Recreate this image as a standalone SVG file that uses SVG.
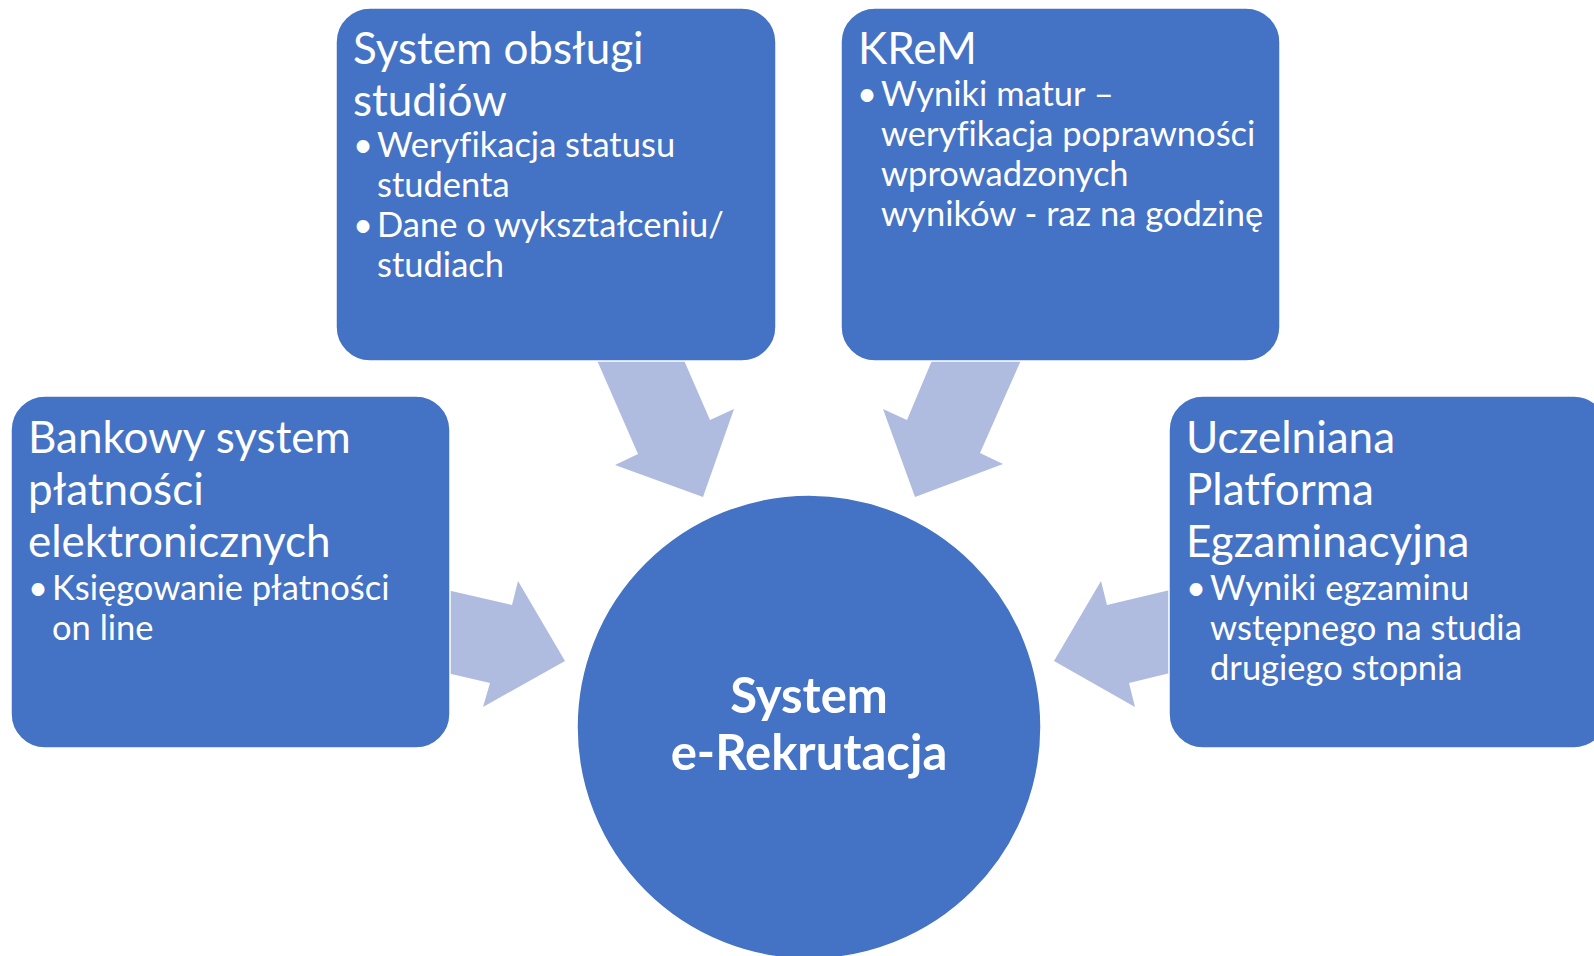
<svg xmlns="http://www.w3.org/2000/svg" width="1594" height="956" viewBox="0 0 1594 956">
<style>
.box{fill:#4472C4;stroke:#ffffff;stroke-width:1.5}
.arrow{fill:#B0BCDF}
.t{font-family:Lato,"Open Sans","Liberation Sans",sans-serif;fill:#ffffff;font-variant-ligatures:none}
.title{font-size:44px}
.item{font-size:34.5px}
.center{font-size:49px;font-weight:bold}
</style>
<rect width="1594" height="956" fill="#ffffff"/>
<g id="connectors">
<polygon class="arrow" points="596,358 683,358 710,420 734,409 703,497 615,465 638,454"/>
<polygon class="arrow" points="933,358 1022,358 980,453 1003,464 915,497 883,409 907,420"/>
<polygon class="arrow" points="447,590 512,605 518,581 565,661 483,707 490,683 447,673"/>
<polygon class="arrow" points="1170,590 1107,605 1101,581 1054,661 1135,707 1129,683 1170,673"/>
</g>
<g id="node-sos">
<rect class="box" x="336" y="8" width="440" height="353" rx="34"/>
<text class="t title" x="353" y="64">System obsługi</text>
<text class="t title" x="353" y="116">studiów</text>
<text class="t item" x="353" y="157">•</text>
<text class="t item" x="377" y="157">Weryfikacja statusu</text>
<text class="t item" x="377" y="197">studenta</text>
<text class="t item" x="353" y="237">•</text>
<text class="t item" x="377" y="237">Dane o wykształceniu/</text>
<text class="t item" x="377" y="277">studiach</text>
</g>
<g id="node-krem">
<rect class="box" x="841" y="8" width="439" height="353" rx="34"/>
<text class="t title" x="858" y="64">KReM</text>
<text class="t item" x="857" y="106">•</text>
<text class="t item" x="881" y="106">Wyniki matur –</text>
<text class="t item" x="881" y="146">weryfikacja poprawności</text>
<text class="t item" x="881" y="186">wprowadzonych</text>
<text class="t item" x="881" y="226">wyników - raz na godzinę</text>
</g>
<g id="node-bank">
<rect class="box" x="11" y="396" width="439" height="352" rx="34"/>
<text class="t title" x="28" y="453">Bankowy system</text>
<text class="t title" x="28" y="505">płatności</text>
<text class="t title" x="28" y="557">elektronicznych</text>
<text class="t item" x="28" y="600">•</text>
<text class="t item" x="52" y="600">Księgowanie płatności</text>
<text class="t item" x="52" y="640">on line</text>
</g>
<g id="node-upe">
<rect class="box" x="1169" y="396" width="439" height="352" rx="34"/>
<text class="t title" x="1186" y="453">Uczelniana</text>
<text class="t title" x="1186" y="505">Platforma</text>
<text class="t title" x="1186" y="557">Egzaminacyjna</text>
<text class="t item" x="1186" y="600">•</text>
<text class="t item" x="1210" y="600">Wyniki egzaminu</text>
<text class="t item" x="1210" y="640">wstępnego na studia</text>
<text class="t item" x="1210" y="680">drugiego stopnia</text>
</g>
<g id="node-center">
<circle class="box" cx="809" cy="727" r="232"/>
<text class="t center" x="809" y="713" text-anchor="middle">System</text>
<text class="t center" x="809" y="770" text-anchor="middle">e-Rekrutacja</text>
</g>
</svg>
